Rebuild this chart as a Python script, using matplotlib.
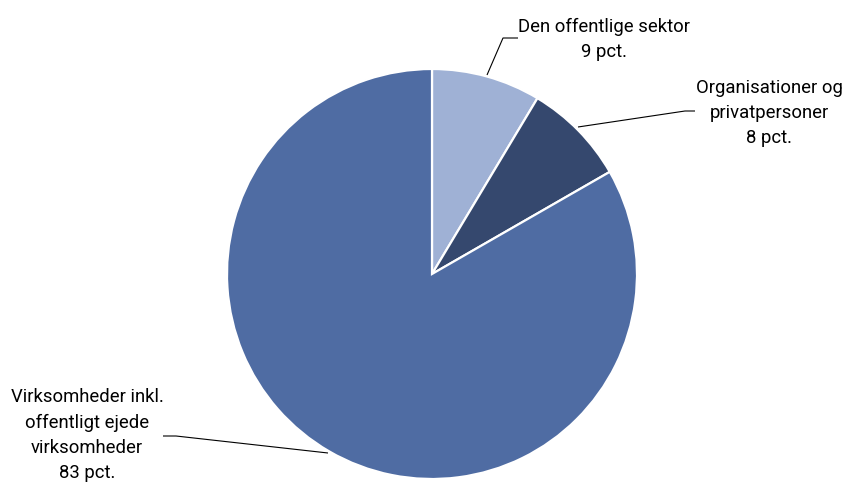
import matplotlib
matplotlib.use("Agg")
import matplotlib.pyplot as plt

categories = ["Den offentlige sektor", "Organisationer og\nprivatpersoner",
              "Virksomheder inkl.\noffentligt ejede\nvirksomheder"]
values = [8.6, 8.1, 83.3]
pct_labels = ["9 pct.", "8 pct.", "83 pct."]
colors = ["#9fb1d5", "#35486e", "#4f6ca3"]

W, H = 843, 489
fig = plt.figure(figsize=(W / 100, H / 100), dpi=100)
ax = fig.add_axes([0, 0, 1, 1])

cx, cy, r = 432, H - 275, 205
ax.pie(values, colors=colors, startangle=90, counterclock=False,
       center=(cx, cy), radius=r, frame=True,
       wedgeprops=dict(edgecolor="white", linewidth=1.6))
ax.set_xlim(0, W)
ax.set_ylim(0, H)
ax.set_aspect("equal")
ax.axis("off")

font = "Roboto"
fs = 13.3


def P(x, y):
    return x, H - y


# leader lines (pixel coordinates)
lines = [
    [(487, 76), (503, 39), (518, 39)],
    [(578, 128), (685, 112), (695, 112)],
    [(328, 454), (176, 437), (163, 437)],
]
for pts in lines:
    xs = [p[0] for p in pts]
    ys = [H - p[1] for p in pts]
    ax.plot(xs, ys, color="black", lw=0.8, solid_capstyle="butt")

labels = [f"{c}\n{p}" for c, p in zip(categories, pct_labels)]
pos = [(604, 39), (769, 113), (87, 435)]
for lab, (x, y) in zip(labels, pos):
    ax.text(*P(x, y), lab, ha="center", va="center", multialignment="center",
            fontsize=fs, family=font, linespacing=1.5, color="black")

fig.savefig("out.png", dpi=100)
